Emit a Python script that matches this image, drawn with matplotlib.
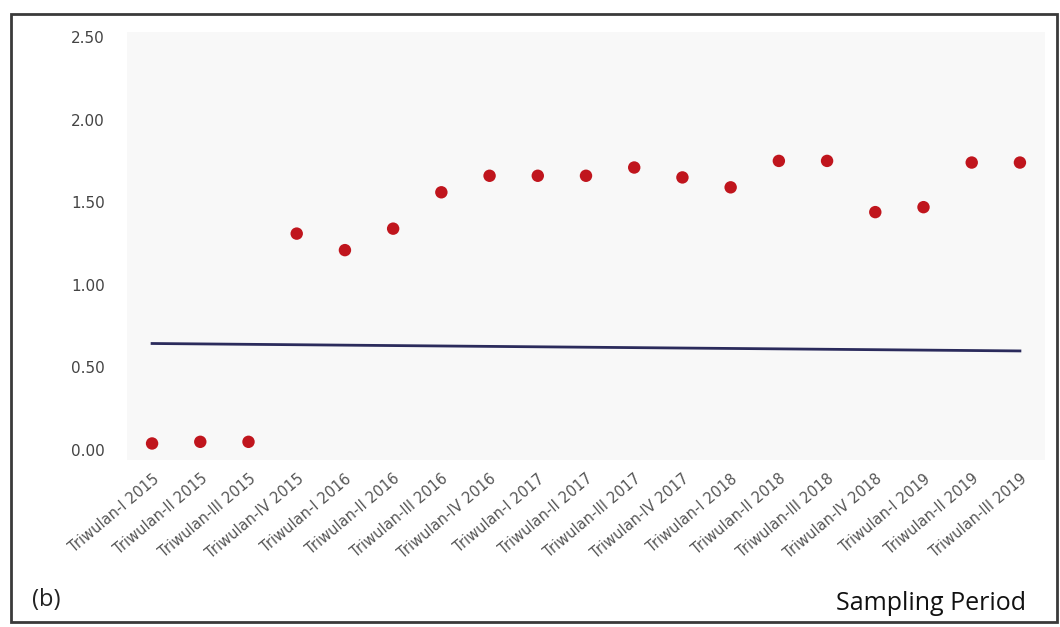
import matplotlib
matplotlib.use("Agg")
import matplotlib.pyplot as plt
from matplotlib.patches import Rectangle

categories = [
    "Triwulan-I 2015", "Triwulan-II 2015", "Triwulan-III 2015", "Triwulan-IV 2015",
    "Triwulan-I 2016", "Triwulan-II 2016", "Triwulan-III 2016", "Triwulan-IV 2016",
    "Triwulan-I 2017", "Triwulan-II 2017", "Triwulan-III 2017", "Triwulan-IV 2017",
    "Triwulan-I 2018", "Triwulan-II 2018", "Triwulan-III 2018", "Triwulan-IV 2018",
    "Triwulan-I 2019", "Triwulan-II 2019", "Triwulan-III 2019",
]
values = [0.04, 0.05, 0.05, 1.31, 1.21, 1.34, 1.56, 1.66, 1.66, 1.66,
          1.71, 1.65, 1.59, 1.75, 1.75, 1.44, 1.47, 1.74, 1.74]
# reference line (start and end values, at first and last category)
ref_line = [0.645, 0.60]
y_ticks = [0.0, 0.5, 1.0, 1.5, 2.0, 2.5]
y_ticklabels = ["0.00", "0.50", "1.00", "1.50", "2.00", "2.50"]

W, H = 1060, 627
fig = plt.figure(figsize=(W / 100, H / 100), dpi=100)
fig.patch.set_facecolor("white")

ax = fig.add_axes([127 / W, (H - 460) / H, (1045 - 127) / W, (460 - 32) / H])
ax.set_facecolor("#f8f8f8")

x = list(range(len(categories)))
ax.plot([x[0], x[-1]], ref_line, color="#2b2b5c", linewidth=2, zorder=2)
ax.scatter(x, values, s=80, color="#c0151d", edgecolors="none", zorder=3)

ax.set_xlim(-0.52, len(categories) - 1 + 0.52)
ax.set_ylim(-0.06, 2.53)
ax.set_yticks(y_ticks)
ax.set_yticklabels(y_ticklabels, color="#444444", fontsize=11)
ax.set_xticks(x)
ax.set_xticklabels(categories, rotation=40, ha="right", va="top",
                   rotation_mode="anchor", color="#555555", fontsize=10.5)
ax.tick_params(axis="y", length=0, pad=16)
ax.tick_params(axis="x", length=0, pad=8)
for s in ax.spines.values():
    s.set_visible(False)

# outer figure border
fig.patches.append(Rectangle((11 / W, (H - 622) / H), (1057 - 11) / W, (622 - 14) / H,
                             transform=fig.transFigure, fill=False,
                             edgecolor="#3a3a3a", linewidth=2))

fig.text(32 / W, 1 - 600 / H, "(b)", fontsize=17, family="Open Sans",
         va="center", ha="left", color="#222222")
fig.text(1026 / W, 1 - 604 / H, "Sampling Period", fontsize=18, family="Open Sans",
         va="center", ha="right", color="#111111")

fig.savefig("out.png", dpi=100)
